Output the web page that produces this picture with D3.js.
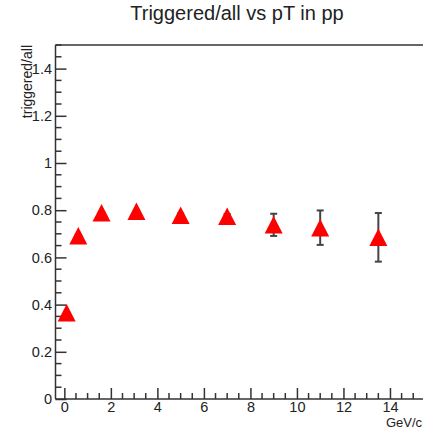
<!DOCTYPE html>
<html>
<head>
<meta charset="utf-8">
<script src="https://cdn.jsdelivr.net/npm/d3@7"></script>
<style>
  html, body { margin: 0; padding: 0; background: #fff; }
  svg { display: block; }
  text { font-family: "Liberation Sans", Arial, Helvetica, sans-serif; fill: #222; }
</style>
</head>
<body>
<svg id="chart" width="423" height="430"></svg>
<script>
// pT bin centres (GeV/c), triggered/all ratio and its statistical error
const ptValues   = [0.1, 0.6, 1.6, 3.1, 5.0, 7.0, 9.0, 11.0, 13.5];
const ratioValues = [0.365, 0.692, 0.789, 0.796, 0.779, 0.774, 0.738, 0.726, 0.685];
const ratioErrors = [0.003, 0.004, 0.004, 0.005, 0.007, 0.010, 0.047, 0.073, 0.103];

const xTickValues = [0, 2, 4, 6, 8, 10, 12, 14];
const yTickValues = [0, 0.2, 0.4, 0.6, 0.8, 1, 1.2, 1.4];

const titleText = "Triggered/all vs pT in pp";
const xTitle = "GeV/c";
const yTitle = "triggered/all";

const svg = d3.select("#chart");

const frameLeft = 55.5, frameRight = 423, frameTop = 45, frameBottom = 399;

const x = d3.scaleLinear().domain([-0.38, 15.42]).range([frameLeft, frameRight]);
const y = d3.scaleLinear().domain([0, 1.5]).range([frameBottom, frameTop]);

const axisColor = "#333";

// frame: top border
svg.append("line")
  .attr("x1", frameLeft).attr("x2", frameRight).attr("y1", frameTop).attr("y2", frameTop)
  .attr("stroke", axisColor).attr("stroke-width", 1.5);

// minor ticks (inside the frame)
const xMinor = d3.range(0, 15.5, 0.5).filter(v => x(v) < frameRight && !xTickValues.includes(v));
const yMinor = d3.range(0, 1.5001, 0.05).map(v => +v.toFixed(2)).filter(v => !yTickValues.includes(v));

const xAxis = d3.axisBottom(x).tickValues(xTickValues).tickSize(-11).tickPadding(3)
  .tickFormat(d3.format("d"));
const yAxis = d3.axisLeft(y).tickValues(yTickValues).tickSize(-11).tickPadding(3.5)
  .tickFormat(d => d === 0 ? "0" : (d === 1 ? "1" : d3.format(".1f")(d)));

const gx = svg.append("g").attr("transform", `translate(0,${frameBottom})`).call(xAxis);
const gy = svg.append("g").attr("transform", `translate(${frameLeft},0)`).call(yAxis);

[gx, gy].forEach(g => {
  g.select(".domain").attr("stroke", axisColor).attr("stroke-width", 1.5);
  g.selectAll(".tick line").attr("stroke", axisColor).attr("stroke-width", 1.5);
  g.selectAll(".tick text").attr("font-size", 14.5)
    .attr("font-family", "Liberation Sans, Arial, sans-serif").attr("fill", "#222");
});
gx.select(".domain").attr("d", `M${frameLeft},0H${frameRight}`);
gy.select(".domain").attr("d", `M0,${frameBottom}V${frameTop}`);

gx.selectAll(".minor").data(xMinor).enter().append("line")
  .attr("x1", d => x(d)).attr("x2", d => x(d))
  .attr("y1", 0).attr("y2", -6)
  .attr("stroke", axisColor).attr("stroke-width", 1.5);
gy.selectAll(".minor").data(yMinor).enter().append("line")
  .attr("y1", d => y(d)).attr("y2", d => y(d))
  .attr("x1", 0).attr("x2", 6)
  .attr("stroke", axisColor).attr("stroke-width", 1.5);

// title
svg.append("text")
  .attr("x", 237).attr("y", 20)
  .attr("text-anchor", "middle")
  .attr("font-size", 20)
  .text(titleText);

// axis titles
svg.append("text")
  .attr("x", 422).attr("y", 427)
  .attr("text-anchor", "end")
  .attr("font-size", 13)
  .text(xTitle);

svg.append("text")
  .attr("transform", `translate(32,${frameTop}) rotate(-90)`)
  .attr("text-anchor", "end")
  .attr("font-size", 14)
  .text(yTitle);

const points = ptValues.map((p, i) => ({ pt: p, r: ratioValues[i], e: ratioErrors[i] }));

// error bars with end caps
const eb = svg.append("g").attr("stroke", "#444").attr("stroke-width", 2);
points.forEach(d => {
  const cx = x(d.pt);
  eb.append("line").attr("x1", cx).attr("x2", cx).attr("y1", y(d.r - d.e)).attr("y2", y(d.r + d.e));
  eb.append("line").attr("x1", cx - 3.5).attr("x2", cx + 3.5).attr("y1", y(d.r + d.e)).attr("y2", y(d.r + d.e));
  eb.append("line").attr("x1", cx - 3.5).attr("x2", cx + 3.5).attr("y1", y(d.r - d.e)).attr("y2", y(d.r - d.e));
});

// full up-pointing triangle markers, centred on their bounding box
const triW = 18, triH = 17.5;
const trianglePath = `M0,${-triH / 2}L${triW / 2},${triH / 2}L${-triW / 2},${triH / 2}Z`;
svg.append("g").selectAll("path").data(points).enter().append("path")
  .attr("d", trianglePath)
  .attr("transform", d => `translate(${x(d.pt)},${y(d.r)})`)
  .attr("fill", "#ff0000");
</script>
</body>
</html>
